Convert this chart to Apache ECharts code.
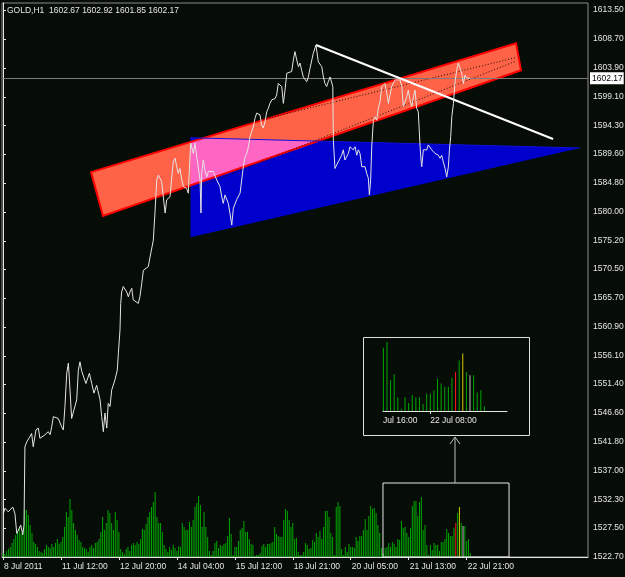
<!DOCTYPE html>
<html><head><meta charset="utf-8">
<script src="https://cdn.jsdelivr.net/npm/echarts@6/dist/echarts.min.js"></script>
<style>html,body{margin:0;padding:0;background:#060c06;}#c{width:625px;height:577px;}</style>
</head><body><div id="c"></div>
<script>
const symbolTitle = 'GOLD,H1  1602.67 1602.92 1601.85 1602.17';
const timeTickBars = [0, 32, 64, 96, 128, 160, 192, 224, 256];
const timeTickLabels = ['8 Jul 2011', '11 Jul 12:00', '12 Jul 20:00', '14 Jul 04:00', '15 Jul 12:00', '18 Jul 21:00', '20 Jul 05:00', '21 Jul 13:00', '22 Jul 21:00'];
const priceTickLabels = ['1613.50','1608.70','1603.90','1599.10','1594.30','1589.60','1584.80','1580.00','1575.20','1570.50','1565.70','1560.90','1556.10','1551.40','1546.60','1541.80','1537.00','1532.30','1527.50','1522.70'];
const lastClose = 1602.17;
// [bar position, close price]
const closeSeries = [[0.2,1529.9],[1.1,1530.8],[2.9,1530.2],[5.4,1531.0],[6.6,1529.9],[7.6,1526.6],[8.4,1526.9],[9.8,1528.0],[10.9,1526.4],[11.6,1528.0],[12.1,1541.0],[13.1,1541.8],[14.9,1542.7],[15.8,1543.2],[16.7,1541.0],[17.7,1540.7],[18.2,1543.8],[19.5,1544.1],[20.4,1542.4],[21.4,1542.1],[23.2,1543.0],[25.0,1543.5],[26.0,1543.0],[26.9,1544.3],[27.8,1546.0],[28.7,1546.3],[30.5,1545.7],[32.4,1544.3],[33.3,1543.8],[34.2,1547.7],[35.2,1553.2],[36.1,1554.9],[37.0,1550.4],[37.9,1545.7],[38.8,1546.0],[40.7,1548.8],[41.6,1553.7],[42.5,1555.1],[43.5,1553.5],[44.3,1553.7],[45.8,1551.5],[47.7,1553.2],[49.0,1551.5],[50.2,1549.9],[51.7,1551.2],[53.6,1548.8],[54.5,1546.0],[55.4,1543.5],[56.3,1546.6],[57.3,1544.1],[58.1,1548.2],[59.1,1547.7],[60.0,1550.4],[61.8,1552.1],[63.1,1553.7],[63.7,1556.5],[64.6,1560.4],[65.0,1564.8],[65.5,1566.7],[66.4,1567.6],[68.3,1566.7],[69.2,1565.9],[70.1,1566.7],[71.1,1567.3],[71.9,1565.4],[72.9,1565.1],[74.7,1564.8],[75.6,1565.9],[76.6,1568.1],[77.5,1570.3],[78.4,1570.6],[80.2,1570.9],[81.2,1572.5],[82.1,1572.8],[83.0,1575.3],[83.9,1579.8],[84.9,1585.3],[85.8,1586.1],[87.6,1585.0],[89.5,1579.8],[90.4,1582.0],[92.2,1582.5],[94.0,1588.3],[95.0,1588.9],[95.9,1587.5],[96.8,1586.4],[97.7,1587.2],[98.7,1585.3],[99.6,1584.2],[101.4,1583.9],[102.3,1583.1],[103.6,1591.4],[105.1,1589.7],[106.0,1591.4],[107.0,1589.1],[107.8,1589.4],[108.8,1585.3],[109.3,1579.8],[109.7,1586.4],[110.6,1588.6],[111.5,1586.9],[112.5,1585.8],[113.4,1586.7],[114.3,1586.4],[116.1,1586.7],[118.0,1585.3],[119.8,1584.2],[120.8,1582.5],[121.6,1581.4],[122.6,1582.8],[123.5,1583.1],[124.4,1581.4],[125.3,1579.8],[126.3,1577.8],[127.2,1580.6],[129.0,1582.0],[130.9,1583.1],[131.8,1585.3],[132.7,1587.5],[133.6,1589.1],[134.6,1589.7],[135.5,1590.8],[136.4,1592.5],[138.2,1594.1],[139.1,1595.5],[140.1,1596.4],[141.9,1596.1],[142.8,1594.4],[143.7,1593.9],[144.7,1595.0],[145.6,1596.6],[146.5,1597.2],[147.4,1598.0],[148.4,1598.6],[149.3,1598.3],[150.2,1598.8],[151.1,1599.4],[152.0,1601.3],[153.0,1601.6],[153.9,1600.8],[154.8,1598.0],[155.7,1600.2],[156.7,1603.0],[157.5,1603.0],[159.4,1603.3],[160.3,1605.2],[161.2,1606.6],[162.2,1605.2],[163.1,1604.1],[164.0,1604.7],[164.9,1603.5],[165.8,1602.4],[167.7,1601.6],[168.6,1602.4],[169.5,1603.8],[171.3,1606.3],[172.8,1607.7],[174.1,1604.9],[175.1,1604.7],[176.0,1604.1],[176.9,1602.4],[177.8,1601.3],[178.7,1600.8],[179.6,1601.6],[180.6,1602.4],[181.5,1602.2],[182.1,1600.8],[182.4,1591.9],[183.3,1587.2],[184.3,1587.2],[185.1,1588.3],[186.1,1588.1],[187.0,1589.4],[187.9,1590.3],[188.8,1588.6],[189.8,1588.3],[190.7,1589.7],[191.6,1590.8],[192.5,1591.1],[193.4,1590.3],[194.4,1590.8],[195.3,1589.4],[196.2,1590.3],[197.1,1589.7],[198.1,1587.5],[199.0,1587.2],[199.9,1587.5],[200.8,1586.4],[201.7,1585.6],[202.3,1582.8],[203.0,1585.3],[203.6,1590.8],[204.5,1595.2],[205.4,1595.8],[206.4,1595.2],[207.2,1597.2],[208.2,1598.3],[209.1,1600.8],[210.0,1600.5],[210.9,1601.3],[211.9,1599.7],[212.8,1598.0],[213.7,1599.4],[214.6,1600.8],[215.5,1601.1],[216.5,1601.9],[217.4,1602.2],[219.2,1601.9],[220.2,1600.8],[221.0,1597.5],[222.0,1597.5],[222.9,1599.1],[223.8,1600.2],[224.7,1598.6],[225.7,1597.5],[226.6,1599.1],[227.5,1600.2],[228.4,1597.2],[229.3,1596.6],[230.3,1590.8],[230.8,1588.6],[231.2,1587.5],[232.1,1590.3],[233.0,1590.5],[234.0,1590.3],[234.8,1591.1],[235.8,1590.8],[236.7,1590.3],[237.6,1590.5],[238.5,1589.7],[239.5,1590.0],[240.4,1589.4],[241.3,1588.9],[242.2,1589.4],[243.1,1588.3],[244.1,1587.2],[245.0,1585.8],[245.9,1587.5],[246.5,1590.3],[247.2,1592.5],[247.8,1595.8],[248.7,1598.0],[249.6,1601.6],[250.5,1603.5],[251.4,1604.7],[252.4,1604.4],[253.3,1603.0],[254.2,1601.3],[255.1,1602.7],[256.0,1602.2],[256.9,1602.4],[257.9,1602.17]];
// tick volume per bar (relative units), bar 0..258
const volume = [4,3,6,8,10,14,18,
22,24,30,24,27,47,47,42,32,24,15,13,10,
6,5,4,8,12,10,9,13,10,14,18,13,15,
20,30,45,40,58,47,34,27,22,17,15,10,
9,8,5,10,12,9,14,15,18,
25,40,27,34,47,44,34,27,45,37,25,8,
5,3,8,10,6,12,14,12,15,13,18,
28,27,33,40,45,50,55,65,40,34,
34,25,12,8,
5,10,7,12,9,6,11,
10,34,30,27,27,35,30,37,50,
54,61,52,30,45,30,20,6,2,6,
14,16,9,12,11,13,14,21,39,23,
2,10,10,16,27,29,36,25,25,18,
13,12,1,2,2,4,11,13,10,13,
13,14,15,30,23,21,20,20,37,
48,46,37,30,34,18,19,5,2,
2,5,14,12,8,9,17,15,24,
20,26,18,30,46,46,40,24,20,2,
50,55,51,8,2,10,5,13,10,10,
9,20,16,21,21,27,38,27,
41,51,48,49,44,32,24,
9,4,9,10,14,10,15,13,10,18,17,36,29,30,24,20,29,51,56,56,41,
55,60,27,32,12,2,12,7,14,12,12,6,15,15,18,28,24,21,21,29,34,44,50,34,31,31,16,18,4];
const highlightBars = {250: '#ff1a1a', 252: '#d8c800', 254: '#bdbdbd'};
// drawn objects, in [bar, price]
const channelCorners = [[48.6,1586.6],[283.3,1608.0],[286.0,1603.5],[55.2,1579.3]];
const channelDotA = [[121.2,1593.7],[283.0,1605.6]];
const channelDotB = [[103.3,1583.6],[283.0,1605.0]];
const triangleCorners = [[103.5,1592.3],[318.6,1590.6],[103.5,1575.8]];
const trendLine = [[172.8,1607.7],[303.7,1592.1]];
// magnified region: bars and volume height
const zoomBoxBars = [209.8, 279.4];
const zoomBoxVolume = 74;
const insetFirstBar = 230;
const insetTickBars = [229.9, 243];
const insetTickLabels = ['Jul 16:00', '22 Jul 08:00'];

const FONT = "'Liberation Sans',Arial,sans-serif";
const FS = 8.5;
const FG = '#e6e6e6';
const chart = echarts.init(document.getElementById('c'), null, {renderer: 'canvas'});

function shape(name, z, build, yIdx) {
  return {type: 'custom', name, xAxisIndex: 0, yAxisIndex: yIdx || 0, z, silent: true,
    data: [[0, 0]], renderItem: (p, api) => build(api)};
}
function seg(name, pts, lineStyle, z) {
  return {type: 'line', name, xAxisIndex: 0, yAxisIndex: 0, z, silent: true, symbol: 'none',
    data: pts, lineStyle};
}
const P = (api, pts) => pts.map(q => api.coord(q));

const volData = volume.map((v, i) => ({value: [i, v], itemStyle: {color: highlightBars[i] || '#00a800'}}));
const insetData = volume.slice(insetFirstBar).map((v, k) => {
  const i = k + insetFirstBar;
  return {value: [i, v], itemStyle: {color: highlightBars[i] || '#00a800'}};
});

const option = {
  backgroundColor: '#060c06',
  animation: false,
  title: {text: symbolTitle, left: 7, top: 6, padding: 0,
    textStyle: {color: FG, fontSize: FS, fontFamily: FONT, fontWeight: 'normal'}},
  grid: [
    {left: 2, right: 37, top: 3, bottom: 20, outerBoundsMode: 'none', containLabel: false,
      show: true, borderColor: '#8a8a8a', borderWidth: 1, backgroundColor: 'transparent'},
    {left: 383, right: 118, top: 341, bottom: 166, outerBoundsMode: 'none', containLabel: false}
  ],
  xAxis: [
    {type: 'value', gridIndex: 0, min: -0.55, max: 323.0, position: 'bottom',
      splitLine: {show: false},
      axisLine: {show: true, lineStyle: {color: FG, width: 1}},
      axisTick: {show: true, length: 3, lineStyle: {color: FG}, customValues: timeTickBars},
      axisLabel: {color: FG, fontSize: FS, fontFamily: FONT, align: 'left', margin: 5, padding: [0, 0, 0, 1],
        customValues: timeTickBars,
        formatter: v => { const k = timeTickBars.indexOf(Math.round(v)); return k >= 0 ? timeTickLabels[k] : ''; }}},
    {type: 'value', gridIndex: 1, min: 229.9, max: 264.25,
      splitLine: {show: false},
      axisLine: {show: true, lineStyle: {color: FG, width: 1}},
      axisTick: {show: true, length: 3, lineStyle: {color: FG}, customValues: [insetTickBars[1]]},
      axisLabel: {color: FG, fontSize: FS, fontFamily: FONT, align: 'left', margin: 5,
        customValues: insetTickBars,
        formatter: v => { const k = insetTickBars.indexOf(v); return k >= 0 ? insetTickLabels[k] : ''; }}}
  ],
  yAxis: [
    {type: 'value', gridIndex: 0, position: 'right', min: 1522.7, max: 1614.67,
      splitLine: {show: false},
      axisLine: {show: true, lineStyle: {color: FG, width: 1}},
      axisTick: {show: true, length: 3, lineStyle: {color: FG}, customValues: priceTickLabels.map(Number)},
      axisLabel: {color: FG, fontSize: FS, fontFamily: FONT, margin: 5,
        customValues: priceTickLabels.map(Number), formatter: v => v.toFixed(2)}},
    {type: 'value', gridIndex: 0, min: 0, max: 554, show: false},
    {type: 'value', gridIndex: 1, min: 0, max: 60.87, show: false}
  ],
  series: [
    {type: 'bar', name: 'volume', xAxisIndex: 0, yAxisIndex: 1, barWidth: 1, z: 1, silent: true, data: volData},
    shape('triangle', 2, api => ({type: 'polygon', shape: {points: P(api, triangleCorners)}, style: {fill: '#0000cd'}})),
    shape('channel', 3, api => ({type: 'polygon', shape: {points: P(api, channelCorners)}, style: {fill: '#ff6347'}})),
    shape('overlap', 3.5, api => ({type: 'polygon', shape: {points: P(api, channelCorners)}, style: {fill: '#ff66c4'},
      clipPath: {type: 'polygon', shape: {points: P(api, triangleCorners)}}})),
    shape('channelEdge', 4, api => ({type: 'polygon', shape: {points: P(api, channelCorners)}, style: {fill: 'none', stroke: '#ff0000', lineWidth: 2}})),
    shape('triangleEdge', 4.5, api => ({type: 'polyline', shape: {points: P(api, triangleCorners.slice(0, 2))}, style: {fill: 'none', stroke: '#1010e0', lineWidth: 1}})),
    seg('channelDotA', channelDotA, {color: '#1a0a0a', width: 1, type: [1, 2]}, 4.6),
    seg('channelDotB', channelDotB, {color: '#1a0a0a', width: 1, type: [1, 2]}, 4.6),
    seg('trend', trendLine, {color: '#ffffff', width: 2}, 5),
    {type: 'line', name: 'close', xAxisIndex: 0, yAxisIndex: 0, z: 6, silent: true, symbol: 'none',
      data: closeSeries, lineStyle: {color: '#e4e4e4', width: 1},
      markLine: {symbol: 'none', silent: true, animation: false,
        lineStyle: {color: '#7c7c7c', width: 1, type: 'solid'},
        label: {position: 'end', distance: 2, formatter: lastClose.toFixed(2), backgroundColor: '#ffffff', color: '#000000',
          fontSize: FS, fontFamily: FONT, padding: [2, 1, 1, 2]},
        data: [{yAxis: lastClose}]}},
    shape('zoomBox', 7, api => {
      const a = api.coord([zoomBoxBars[0], zoomBoxVolume]);
      const b = api.coord([zoomBoxBars[1], 0]);
      return {type: 'rect', shape: {x: a[0], y: a[1], width: b[0] - a[0], height: b[1] - a[1]},
        style: {fill: 'none', stroke: '#e8e8e8', lineWidth: 1}};
    }, 1),
    {type: 'bar', name: 'insetVolume', xAxisIndex: 1, yAxisIndex: 2, barWidth: 1, silent: true, data: insetData}
  ],
  graphic: [
    {type: 'rect', shape: {x: 363.5, y: 337.5, width: 166, height: 98}, style: {fill: 'none', stroke: '#e0e0e0', lineWidth: 1}, z: 10},
    {type: 'polyline', shape: {points: [[455, 483], [455, 437]]}, style: {stroke: '#bdbdbd', lineWidth: 1}, z: 10},
    {type: 'polyline', shape: {points: [[450, 444], [455, 437], [460, 444]]}, style: {stroke: '#bdbdbd', fill: 'none', lineWidth: 1}, z: 10}
  ]
};
chart.setOption(option);
</script>
</body></html>
